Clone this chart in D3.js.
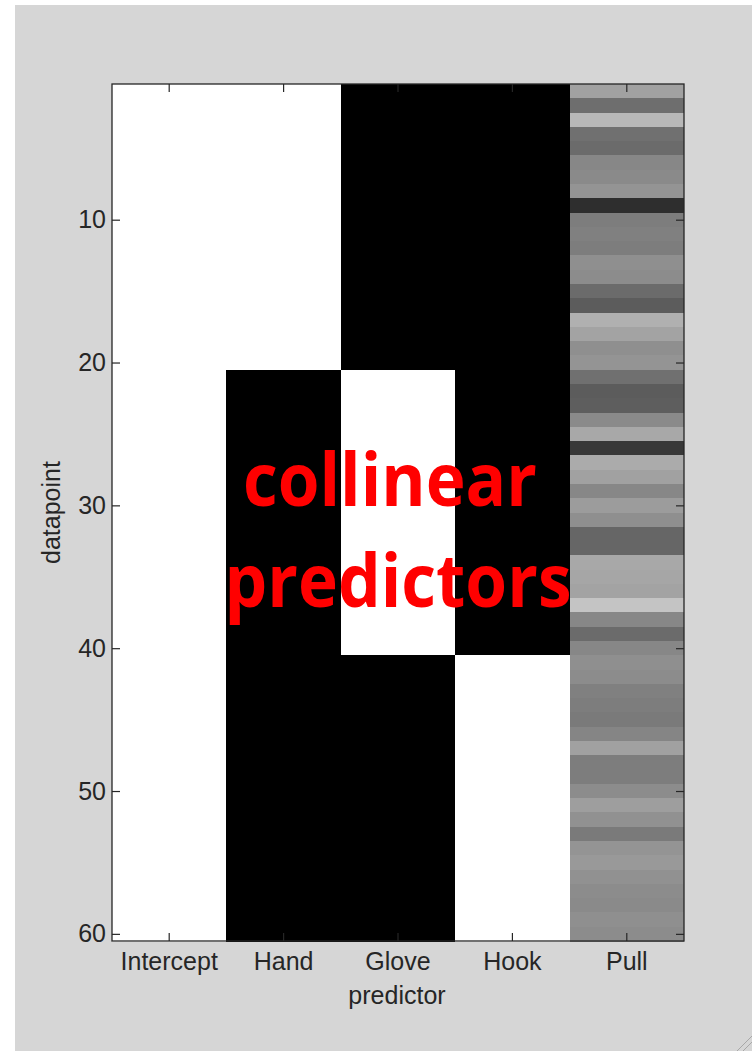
<!DOCTYPE html>
<html>
<head>
<meta charset="utf-8">
<script src="https://cdn.jsdelivr.net/npm/d3@7"></script>
<style>
  html, body { margin: 0; padding: 0; background: #ffffff; }
  svg { display: block; }
</style>
</head>
<body>
<svg id="chart" width="752" height="1051"></svg>
<script>
// ---------------- data ----------------
const predictors = ["Intercept", "Hand", "Glove", "Hook", "Pull"];
const yTicks = [10, 20, 30, 40, 50, 60];

const intercept = [1,1,1,1,1,1,1,1,1,1, 1,1,1,1,1,1,1,1,1,1,
                   1,1,1,1,1,1,1,1,1,1, 1,1,1,1,1,1,1,1,1,1,
                   1,1,1,1,1,1,1,1,1,1, 1,1,1,1,1,1,1,1,1,1];
const hand      = [1,1,1,1,1,1,1,1,1,1, 1,1,1,1,1,1,1,1,1,1,
                   0,0,0,0,0,0,0,0,0,0, 0,0,0,0,0,0,0,0,0,0,
                   0,0,0,0,0,0,0,0,0,0, 0,0,0,0,0,0,0,0,0,0];
const glove     = [0,0,0,0,0,0,0,0,0,0, 0,0,0,0,0,0,0,0,0,0,
                   1,1,1,1,1,1,1,1,1,1, 1,1,1,1,1,1,1,1,1,1,
                   0,0,0,0,0,0,0,0,0,0, 0,0,0,0,0,0,0,0,0,0];
const hook      = [0,0,0,0,0,0,0,0,0,0, 0,0,0,0,0,0,0,0,0,0,
                   0,0,0,0,0,0,0,0,0,0, 0,0,0,0,0,0,0,0,0,0,
                   1,1,1,1,1,1,1,1,1,1, 1,1,1,1,1,1,1,1,1,1];
const pull      = [0.63,0.43,0.72,0.44,0.42,0.53,0.54,0.58,0.18,0.49,
                   0.50,0.49,0.56,0.55,0.42,0.36,0.69,0.64,0.56,0.58,
                   0.44,0.36,0.37,0.54,0.66,0.22,0.67,0.63,0.53,0.61,
                   0.56,0.40,0.40,0.66,0.65,0.64,0.77,0.53,0.42,0.53,
                   0.56,0.55,0.50,0.49,0.48,0.52,0.63,0.49,0.49,0.55,
                   0.62,0.57,0.48,0.58,0.60,0.57,0.55,0.54,0.56,0.55];

const columns = [intercept, hand, glove, hook, pull];
const xLabel = "predictor";
const yLabel = "datapoint";
const overlayLines = ["collinear", "predictors"];

// ---------------- layout ----------------
const svg = d3.select("#chart");
const pLeft = 112, pRight = 684, pTop = 84, pBottom = 941;
const axisColor = "#262626";
const font = "'Liberation Sans', Arial, Helvetica, sans-serif";

// figure background
svg.append("rect").attr("x", 15).attr("y", 5).attr("width", 752 - 15).attr("height", 1051 - 5)
  .attr("fill", "#d6d6d6");

const x = d3.scaleBand().domain(predictors).range([pLeft, pRight]).padding(0);
const nRows = intercept.length;
const y = d3.scaleLinear().domain([0.5, nRows + 0.5]).range([pTop, pBottom]);
const grey = d3.scaleLinear().domain([0, 1]).range(["#000000", "#ffffff"]);

// cells
const cells = [];
predictors.forEach((p, ci) => {
  columns[ci].forEach((v, ri) => cells.push({ p, row: ri + 1, v }));
});
svg.append("g").selectAll("rect").data(cells).join("rect")
  .attr("x", d => x(d.p))
  .attr("y", d => y(d.row - 0.5))
  .attr("width", x.bandwidth())
  .attr("height", d => y(d.row + 0.5) - y(d.row - 0.5) + 0.5)
  .attr("fill", d => grey(d.v))
  .attr("shape-rendering", "crispEdges");

// axes
function styleAxis(g) {
  g.select(".domain").remove();
  g.selectAll("line").attr("stroke", axisColor).attr("stroke-width", 1.2);
  g.selectAll("text").attr("fill", axisColor).style("font-family", font).style("font-size", "25px");
}
svg.append("g").attr("transform", `translate(${pLeft},0)`)
  .call(d3.axisLeft(y).tickValues(yTicks).tickSizeInner(-8).tickSizeOuter(0).tickPadding(6))
  .call(styleAxis);
svg.append("g").attr("transform", `translate(${pRight},0)`)
  .call(d3.axisRight(y).tickValues(yTicks).tickSizeInner(-8).tickSizeOuter(0).tickFormat(""))
  .call(styleAxis);
svg.append("g").attr("transform", `translate(0,${pBottom})`)
  .call(d3.axisBottom(x).tickSizeInner(-8).tickSizeOuter(0).tickPadding(11))
  .call(styleAxis);
svg.append("g").attr("transform", `translate(0,${pTop})`)
  .call(d3.axisTop(x).tickSizeInner(-8).tickSizeOuter(0).tickFormat(""))
  .call(styleAxis);

// frame
svg.append("rect").attr("x", pLeft).attr("y", pTop).attr("width", pRight - pLeft).attr("height", pBottom - pTop)
  .attr("fill", "none").attr("stroke", axisColor).attr("stroke-width", 1.3);

// axis titles
svg.append("text").attr("x", (pLeft + pRight) / 2 - 1).attr("y", 1004)
  .attr("text-anchor", "middle").attr("fill", axisColor)
  .style("font-family", font).style("font-size", "25px").text(xLabel);
svg.append("text").attr("transform", `translate(60,${(pTop + pBottom) / 2}) rotate(-90)`)
  .attr("text-anchor", "middle").attr("fill", axisColor)
  .style("font-family", font).style("font-size", "25px").text(yLabel);

// overlay annotation
const overlay = [
  { t: overlayLines[0], cx: 390, base: 506, len: 294 },
  { t: overlayLines[1], cx: 398, base: 607, len: 347 }
];
svg.append("g").selectAll("text").data(overlay).join("text")
  .attr("x", d => d.cx).attr("y", d => d.base)
  .attr("text-anchor", "middle")
  .attr("textLength", d => d.len).attr("lengthAdjust", "spacingAndGlyphs")
  .attr("fill", "#ff0000")
  .style("font-family", "'Open Sans', 'Noto Sans', sans-serif")
  .style("font-weight", "700").style("font-size", "74px")
  .text(d => d.t);

// resize grip bottom-right
const grip = svg.append("g").attr("stroke", "#a8a8a8").attr("stroke-width", 1);
[[737, 1051, 752, 1036], [743, 1051, 752, 1042]].forEach(s =>
  grip.append("line").attr("x1", s[0]).attr("y1", s[1]).attr("x2", s[2]).attr("y2", s[3]));
</script>
</body>
</html>
